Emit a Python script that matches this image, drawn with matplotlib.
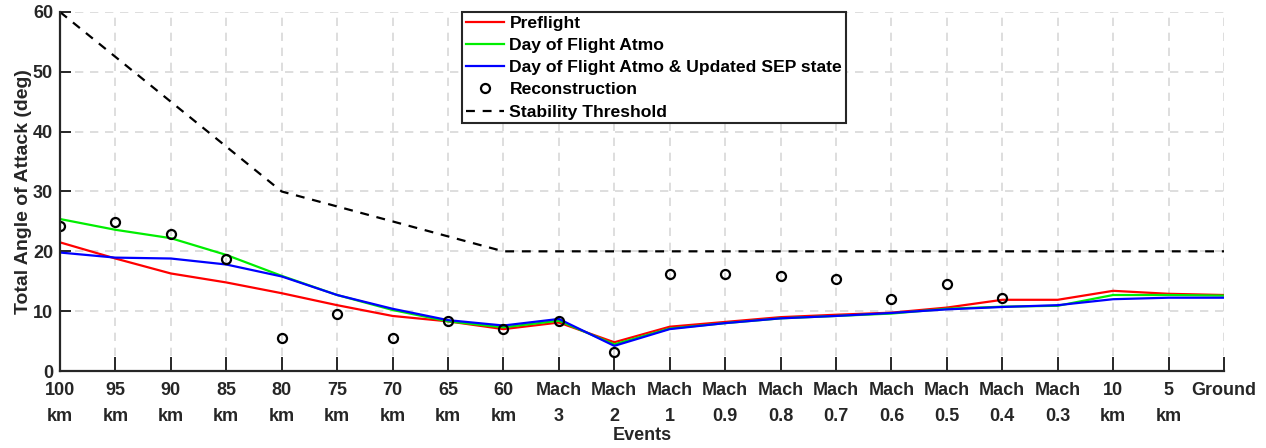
import numpy as np
import matplotlib
matplotlib.use('Agg')
from matplotlib import pyplot as plt

plt.rcParams['font.family'] = ['Liberation Sans', 'DejaVu Sans']
plt.rcParams['font.weight'] = 'bold'

events = ['100\nkm', '95\nkm', '90\nkm', '85\nkm', '80\nkm', '75\nkm', '70\nkm', '65\nkm', '60\nkm',
          'Mach\n3', 'Mach\n2', 'Mach\n1', 'Mach\n0.9', 'Mach\n0.8', 'Mach\n0.7', 'Mach\n0.6',
          'Mach\n0.5', 'Mach\n0.4', 'Mach\n0.3', '10\nkm', '5\nkm', 'Ground']

preflight = [21.5, 18.8, 16.3, 14.8, 13.0, 11.0, 9.2, 8.3, 7.0, 8.1, 4.8, 7.4, 8.2, 9.0, 9.4, 9.75,
             10.6, 11.9, 11.9, 13.4, 12.9, 12.7]
dof_atmo = [25.4, 23.6, 22.2, 19.4, 15.9, 12.7, 10.2, 8.3, 7.3, 8.4, 4.45, 7.1, 8.0, 8.8, 9.2, 9.6,
            10.4, 10.75, 10.9, 12.7, 12.7, 12.6]
dof_sep = [19.8, 18.95, 18.8, 17.8, 15.8, 12.7, 10.4, 8.5, 7.6, 8.7, 4.2, 7.0, 8.0, 8.8, 9.2, 9.7,
           10.3, 10.7, 11.0, 12.0, 12.25, 12.25]
recon = [24.2, 24.9, 22.9, 18.8, 5.5, 9.6, 5.5, 8.4, 7.1, 8.4, 3.1, 16.2, 16.2, 15.9, 15.4, 12.0,
         14.5, 12.2, np.nan, np.nan, np.nan, np.nan]
threshold = [60, 52.5, 45, 37.5, 30, 27.5, 25, 22.5, 20, 20, 20, 20, 20, 20, 20, 20,
             20, 20, 20, 20, 20, 20]

x = np.arange(len(events))

fig = plt.figure(figsize=(12.66, 4.48), dpi=100)
ax = fig.add_axes([60/1266, 77/448, 1164/1266, 359/448])

ax.plot(x, preflight, color='#ff0000', lw=1.6, label='Preflight')
ax.plot(x, dof_atmo, color='#00ee00', lw=1.6, label='Day of Flight Atmo')
ax.plot(x, dof_sep, color='#0000ff', lw=1.6, label='Day of Flight Atmo & Updated SEP state')
ax.plot(x, recon, 'o', mfc='none', mec='black', mew=1.6, ms=6.5, label='Reconstruction')
ax.plot(x, threshold, '--', color='black', lw=1.6, dashes=(4, 3.5), label='Stability Threshold')

ax.set_xlim(0, 21)
ax.set_ylim(0, 60)
ax.set_xticks(x)
ax.set_xticklabels(events, fontsize=13, fontweight='bold', color='#262626', linespacing=1.65)
ax.set_yticks(np.arange(0, 61, 10))
ax.tick_params(direction='in', width=1.4, color='#262626')
ax.tick_params(axis='x', length=10, pad=8)
ax.tick_params(axis='y', length=8, pad=5, labelsize=13, colors='#262626')

ax.grid(True, linestyle=(0, (5, 4)), color='#d8d8d8', lw=1.2)
ax.set_axisbelow(True)
for s in ['top', 'right']:
    ax.spines[s].set_visible(False)
for s in ['left', 'bottom']:
    ax.spines[s].set_linewidth(1.6)
    ax.spines[s].set_color('#262626')

ax.set_xlabel('Events', fontsize=13, fontweight='bold', color='#262626', labelpad=2)
ax.set_ylabel('Total Angle of Attack (deg)', fontsize=14, fontweight='bold', color='#262626', labelpad=1)

leg = ax.legend(loc='upper left', bbox_to_anchor=(0.3455, 1.0), fontsize=12.6, frameon=True,
                fancybox=False, edgecolor='#262626', framealpha=1, borderpad=0.2,
                labelspacing=0.4, handlelength=2.2, handletextpad=0.3, borderaxespad=0)
leg.get_frame().set_linewidth(1.5)
for t in leg.get_texts():
    t.set_fontweight('bold')

plt.savefig('out.png', dpi=100)
